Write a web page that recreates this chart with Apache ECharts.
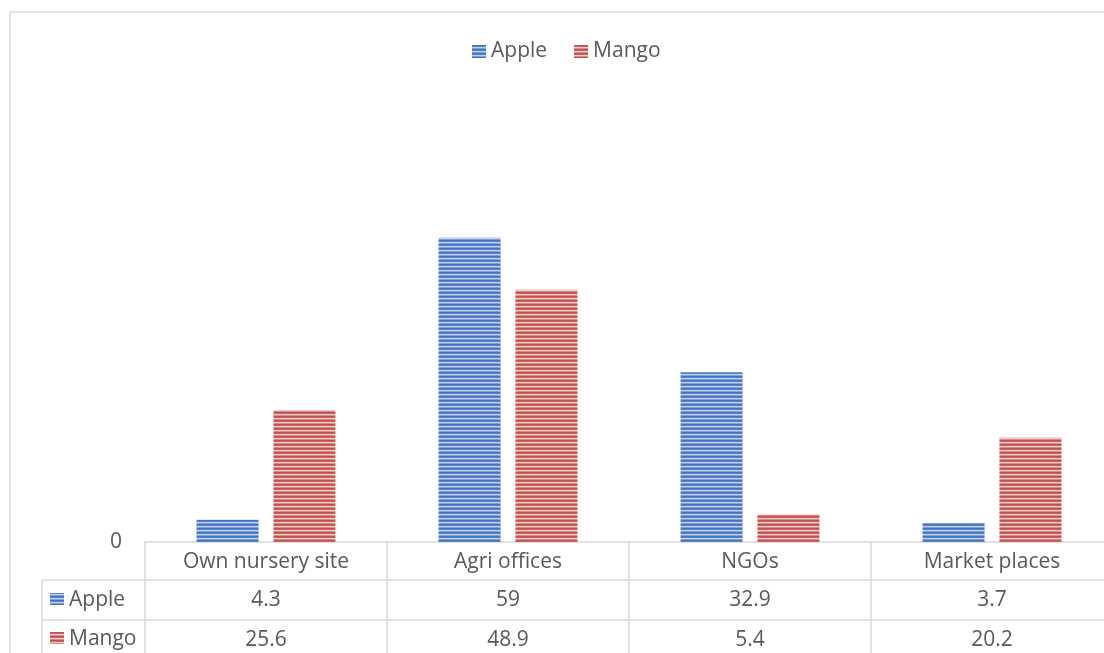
<!DOCTYPE html>
<html>
<head>
<meta charset="utf-8">
<script src="https://cdn.jsdelivr.net/npm/echarts@6/dist/echarts.min.js"></script>
<style>
  html, body { margin: 0; padding: 0; background: #ffffff; overflow: hidden; }
  #chart { width: 1120px; height: 653px; }
</style>
</head>
<body>
<div id="chart"></div>
<script>
// Sources of planting material, per fruit crop
const categories = ['Own nursery site', 'Agri offices', 'NGOs', 'Market places'];
const seriesNames = ['Apple', 'Mango'];
const appleValues = [4.3, 59, 32.9, 3.7];
const mangoValues = [25.6, 48.9, 5.4, 20.2];

const FONT = '"Open Sans", "Noto Sans", sans-serif';
const FS = 21;
const TEXT = '#595959';
const LINE = '#d9d9d9';

// Horizontal striped fill, like a lined hatch
function stripes(rows) {
  const c = document.createElement('canvas');
  c.width = 4; c.height = rows.length;
  const g = c.getContext('2d');
  rows.forEach((col, i) => { g.fillStyle = col; g.fillRect(0, i, 4, 1); });
  return { image: c, repeat: 'repeat' };
}
const bluePattern = stripes(['#4472c4', '#5681cb', '#c2d2ec', '#7e9ed7']);
const redPattern = stripes(['#c0504d', '#c96461', '#f0cccb', '#d98b89']);

const chart = echarts.init(document.getElementById('chart'));

function tableAxis(values, offset, tickLen) {
  return {
    type: 'category',
    position: 'bottom',
    data: categories,
    offset: offset,
    axisLine: { show: true, lineStyle: { color: LINE, width: 1.5 } },
    axisTick: { show: true, length: tickLen, lineStyle: { color: LINE, width: 1.5 } },
    axisLabel: {
      margin: 10, color: TEXT, fontSize: FS, fontFamily: FONT,
      formatter: (v, i) => values ? String(values[i]) : v
    }
  };
}

chart.setOption({
  animation: false,
  backgroundColor: '#ffffff',
  legend: {
    top: 41,
    left: 472,
    padding: 0,
    icon: 'rect',
    itemWidth: 14, itemHeight: 13, itemGap: 27,
    textStyle: { color: TEXT, fontSize: FS, fontFamily: FONT },
    data: seriesNames
  },
  grid: { left: 145, right: 7, top: 181, bottom: 111 },
  xAxis: [
    tableAxis(null, 0, 38),
    tableAxis(appleValues, 38, 40),
    tableAxis(mangoValues, 78, 40)
  ],
  yAxis: {
    type: 'value', min: 0, max: 70, interval: 10,
    axisLine: { show: false }, axisTick: { show: false },
    splitLine: { show: false },
    axisLabel: {
      margin: 23, color: TEXT, fontSize: FS, fontFamily: FONT,
      padding: [4, 0, 0, 0],
      formatter: v => v === 0 ? '0' : ''
    }
  },
  series: [
    { name: seriesNames[0], type: 'bar', xAxisIndex: 0, data: appleValues,
      barWidth: 62, barGap: '24%', itemStyle: { color: bluePattern } },
    { name: seriesNames[1], type: 'bar', xAxisIndex: 0, data: mangoValues,
      barWidth: 62, barGap: '24%', itemStyle: { color: redPattern } }
  ],
  graphic: [
    // chart frame
    { type: 'rect', shape: { x: 10, y: 12, width: 1200, height: 800 },
      style: { fill: 'none', stroke: LINE, lineWidth: 1.5 }, silent: true },
    // legend-key column of the data table
    { type: 'line', shape: { x1: 42, y1: 580, x2: 145, y2: 580 }, style: { stroke: LINE, lineWidth: 1.5 } },
    { type: 'line', shape: { x1: 42, y1: 620, x2: 145, y2: 620 }, style: { stroke: LINE, lineWidth: 1.5 } },
    { type: 'line', shape: { x1: 42, y1: 580, x2: 42, y2: 660 }, style: { stroke: LINE, lineWidth: 1.5 } },
    { type: 'rect', shape: { x: 50, y: 593, width: 14, height: 12 }, style: { fill: bluePattern } },
    { type: 'text', x: 69, y: 600, style: { text: seriesNames[0], fill: TEXT, font: FS + 'px ' + FONT, textVerticalAlign: 'middle' } },
    { type: 'rect', shape: { x: 50, y: 632, width: 14, height: 12 }, style: { fill: redPattern } },
    { type: 'text', x: 69, y: 639, style: { text: seriesNames[1], fill: TEXT, font: FS + 'px ' + FONT, textVerticalAlign: 'middle' } }
  ]
});
</script>
</body>
</html>
